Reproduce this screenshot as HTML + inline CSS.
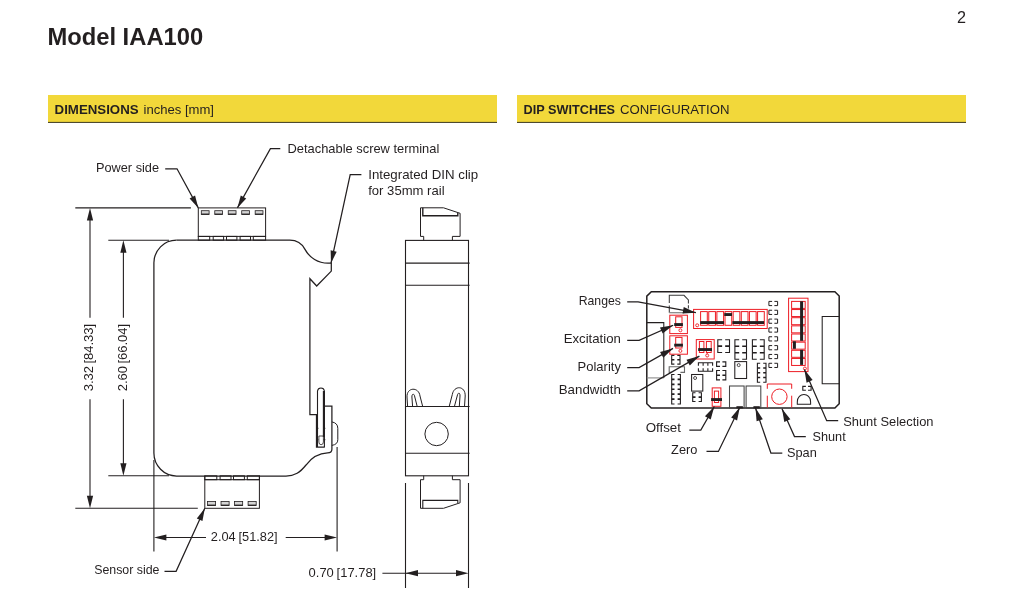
<!DOCTYPE html>
<html lang="en">
<head>
<meta charset="utf-8">
<title>Model IAA100</title>
<style>
html,body{margin:0;padding:0;background:#fff;}
body{width:1011px;height:606px;overflow:hidden;}
svg{display:block;will-change:transform;font-family:"Liberation Sans",sans-serif;}
svg text{fill:#231f20;}
</style>
</head>
<body>
<svg width="1011" height="606" viewBox="0 0 1011 606">
<text x="47.4" y="44.7" font-size="23" font-weight="bold" textLength="155.8" lengthAdjust="spacingAndGlyphs">Model IAA100</text>
<text x="961.5" y="22.9" font-size="16.2" text-anchor="middle">2</text>
<rect x="48" y="95" width="449" height="27" fill="#f2d83a"/>
<rect x="48" y="121.9" width="449" height="1" fill="#3b3718"/>
<rect x="517" y="95" width="449" height="27" fill="#f2d83a"/>
<rect x="517" y="121.9" width="449" height="1" fill="#3b3718"/>
<text x="54.6" y="113.7" font-size="13.5" font-weight="bold" textLength="84" lengthAdjust="spacingAndGlyphs">DIMENSIONS</text>
<text x="143.5" y="113.7" font-size="13.5" textLength="70.5" lengthAdjust="spacingAndGlyphs">inches [mm]</text>
<text x="523.6" y="113.7" font-size="13.5" font-weight="bold" textLength="91.5" lengthAdjust="spacingAndGlyphs">DIP SWITCHES</text>
<text x="620" y="113.7" font-size="13.5" textLength="109.5" lengthAdjust="spacingAndGlyphs">CONFIGURATION</text>
<path d="M176.5,240.2 L289.8,240.2 A17.2,17.2 0 0 1 305,249.4 A26,26 0 0 0 328,263.2 L331.3,263.2 L331.3,271.1 L316.7,286 L309.9,278.7 L309.9,414.5 L316.5,414.5 L316.5,447.1 L324.8,447.1" fill="none" stroke="#231f20" stroke-width="1.25"/>
<path d="M324.5,406.2 L331.9,406.2 L331.9,449.3 Q331.9,452.9 327.6,452.9 C318.5,453.3 312,457 306,465 C300,472.5 295,476 286,476 L176.6,476 A22.7,22.9 0 0 1 153.9,453.1 L153.9,262.8 A22.6,22.6 0 0 1 176.5,240.2" fill="none" stroke="#231f20" stroke-width="1.25"/>
<path d="M331.9,421.9 Q337.8,423 337.8,428.3 L337.8,439.7 Q337.8,444.5 331.9,445.4" fill="none" stroke="#231f20" stroke-width="1.0"/>
<path d="M317.5,447 L317.5,391 A3.5,3.6 0 0 1 324.4,391 L324.4,447" fill="none" stroke="#231f20" stroke-width="1.1"/>
<line x1="323.9" y1="391" x2="323.9" y2="437" stroke="#231f20" stroke-width="2.1"/>
<path d="M318.9,436 L323.4,436 M318.9,436 L318.9,442 Q318.9,444.7 321.1,444.7 Q323.4,444.7 323.4,442 L323.4,436" fill="none" stroke="#231f20" stroke-width="0.8"/>
<line x1="316.5" y1="428.3" x2="318.5" y2="428.3" stroke="#231f20" stroke-width="0.8"/>
<line x1="323.4" y1="428.3" x2="325.4" y2="428.3" stroke="#231f20" stroke-width="0.8"/>
<line x1="316.5" y1="439.7" x2="318.5" y2="439.7" stroke="#231f20" stroke-width="0.8"/>
<line x1="323.4" y1="439.7" x2="325.4" y2="439.7" stroke="#231f20" stroke-width="0.8"/>
<rect x="198.3" y="207.9" width="67.3" height="28.5" fill="none" stroke="#231f20" stroke-width="1.0"/>
<rect x="198.3" y="236.4" width="11.4" height="3.8" fill="none" stroke="#231f20" stroke-width="1.0"/>
<rect x="213.2" y="236.4" width="10.4" height="3.8" fill="none" stroke="#231f20" stroke-width="1.0"/>
<rect x="226.5" y="236.4" width="10.4" height="3.8" fill="none" stroke="#231f20" stroke-width="1.0"/>
<rect x="240.1" y="236.4" width="10.4" height="3.8" fill="none" stroke="#231f20" stroke-width="1.0"/>
<rect x="253.3" y="236.4" width="12.3" height="3.8" fill="none" stroke="#231f20" stroke-width="1.0"/>
<rect x="201.3" y="210.7" width="7.8" height="3.7" fill="#d4d4d4" stroke="#231f20" stroke-width="0.8"/>
<line x1="201.3" y1="214.1" x2="209.1" y2="214.1" stroke="#231f20" stroke-width="1.1"/>
<rect x="214.77" y="210.7" width="7.8" height="3.7" fill="#d4d4d4" stroke="#231f20" stroke-width="0.8"/>
<line x1="214.77" y1="214.1" x2="222.57" y2="214.1" stroke="#231f20" stroke-width="1.1"/>
<rect x="228.24" y="210.7" width="7.8" height="3.7" fill="#d4d4d4" stroke="#231f20" stroke-width="0.8"/>
<line x1="228.24" y1="214.1" x2="236.04" y2="214.1" stroke="#231f20" stroke-width="1.1"/>
<rect x="241.71" y="210.7" width="7.8" height="3.7" fill="#d4d4d4" stroke="#231f20" stroke-width="0.8"/>
<line x1="241.71" y1="214.1" x2="249.51" y2="214.1" stroke="#231f20" stroke-width="1.1"/>
<rect x="255.18" y="210.7" width="7.8" height="3.7" fill="#d4d4d4" stroke="#231f20" stroke-width="0.8"/>
<line x1="255.18" y1="214.1" x2="262.98" y2="214.1" stroke="#231f20" stroke-width="1.1"/>
<rect x="204.8" y="479.7" width="54.6" height="28.6" fill="none" stroke="#231f20" stroke-width="1.0"/>
<line x1="204.8" y1="475.8" x2="204.8" y2="479.7" stroke="#231f20" stroke-width="1.0"/>
<line x1="259.4" y1="475.8" x2="259.4" y2="479.7" stroke="#231f20" stroke-width="1.0"/>
<rect x="204.8" y="475.8" width="12" height="3.9" fill="none" stroke="#231f20" stroke-width="1.0"/>
<rect x="220.1" y="475.8" width="10.9" height="3.9" fill="none" stroke="#231f20" stroke-width="1.0"/>
<rect x="233.5" y="475.8" width="10.9" height="3.9" fill="none" stroke="#231f20" stroke-width="1.0"/>
<rect x="247.3" y="475.8" width="12.1" height="3.9" fill="none" stroke="#231f20" stroke-width="1.0"/>
<rect x="207.5" y="501.5" width="8.1" height="3.9" fill="#d4d4d4" stroke="#231f20" stroke-width="0.8"/>
<line x1="207.5" y1="505.2" x2="215.6" y2="505.2" stroke="#231f20" stroke-width="1.2"/>
<rect x="221.03" y="501.5" width="8.1" height="3.9" fill="#d4d4d4" stroke="#231f20" stroke-width="0.8"/>
<line x1="221.03" y1="505.2" x2="229.13" y2="505.2" stroke="#231f20" stroke-width="1.2"/>
<rect x="234.56" y="501.5" width="8.1" height="3.9" fill="#d4d4d4" stroke="#231f20" stroke-width="0.8"/>
<line x1="234.56" y1="505.2" x2="242.66" y2="505.2" stroke="#231f20" stroke-width="1.2"/>
<rect x="248.09" y="501.5" width="8.1" height="3.9" fill="#d4d4d4" stroke="#231f20" stroke-width="0.8"/>
<line x1="248.09" y1="505.2" x2="256.19" y2="505.2" stroke="#231f20" stroke-width="1.2"/>
<line x1="75.3" y1="207.9" x2="190.9" y2="207.9" stroke="#231f20" stroke-width="1.1"/>
<line x1="108.3" y1="240.2" x2="169" y2="240.2" stroke="#231f20" stroke-width="1.1"/>
<line x1="108.3" y1="475.8" x2="169" y2="475.8" stroke="#231f20" stroke-width="1.1"/>
<line x1="75.3" y1="508.3" x2="197.8" y2="508.3" stroke="#231f20" stroke-width="1.1"/>
<line x1="153.9" y1="460" x2="153.9" y2="551.6" stroke="#231f20" stroke-width="1.1"/>
<line x1="337.1" y1="447.1" x2="337.1" y2="551.6" stroke="#231f20" stroke-width="1.1"/>
<line x1="90" y1="215" x2="90" y2="317.8" stroke="#231f20" stroke-width="1.1"/>
<line x1="90" y1="399.2" x2="90" y2="500" stroke="#231f20" stroke-width="1.1"/>
<path d="M90,207.9 L93.1,220.4 L86.9,220.4 Z" fill="#231f20"/>
<path d="M90,508.3 L86.9,495.8 L93.1,495.8 Z" fill="#231f20"/>
<line x1="123.4" y1="247" x2="123.4" y2="317.8" stroke="#231f20" stroke-width="1.1"/>
<line x1="123.4" y1="399.2" x2="123.4" y2="470" stroke="#231f20" stroke-width="1.1"/>
<path d="M123.4,240.2 L126.5,252.7 L120.3,252.7 Z" fill="#231f20"/>
<path d="M123.4,475.8 L120.3,463.3 L126.5,463.3 Z" fill="#231f20"/>
<text transform="translate(93.4,357.6) rotate(-90)" font-size="13.1" word-spacing="-1.2" text-anchor="middle" textLength="67.3" lengthAdjust="spacingAndGlyphs">3.32 [84.33]</text>
<text transform="translate(127.2,357.6) rotate(-90)" font-size="13.1" word-spacing="-1.2" text-anchor="middle" textLength="67.3" lengthAdjust="spacingAndGlyphs">2.60 [66.04]</text>
<line x1="160" y1="537.5" x2="206" y2="537.5" stroke="#231f20" stroke-width="1.1"/>
<line x1="285.7" y1="537.5" x2="330" y2="537.5" stroke="#231f20" stroke-width="1.1"/>
<path d="M153.9,537.5 L166.4,534.4 L166.4,540.6 Z" fill="#231f20"/>
<path d="M337.1,537.5 L324.6,540.6 L324.6,534.4 Z" fill="#231f20"/>
<text x="210.8" y="540.9" font-size="13.5" textLength="66.8" lengthAdjust="spacingAndGlyphs" word-spacing="-0.8">2.04 [51.82]</text>
<text x="96" y="172.2" font-size="13" textLength="63" lengthAdjust="spacingAndGlyphs">Power side</text>
<path d="M165.2,168.8 L177,168.8 L198.3,207.9" fill="none" stroke="#231f20" stroke-width="1.25"/>
<path d="M198.3,207.9 L189.6,198.41 L195.04,195.44 Z" fill="#231f20"/>
<text x="287.5" y="152.6" font-size="13" textLength="151.8" lengthAdjust="spacingAndGlyphs">Detachable screw terminal</text>
<path d="M280.3,148.6 L270.4,148.6 L237.4,207.9" fill="none" stroke="#231f20" stroke-width="1.25"/>
<path d="M237.4,207.9 L240.77,195.47 L246.19,198.48 Z" fill="#231f20"/>
<text x="368.2" y="179" font-size="13" textLength="110" lengthAdjust="spacingAndGlyphs">Integrated DIN clip</text>
<text x="368.2" y="194.8" font-size="13" textLength="76.4" lengthAdjust="spacingAndGlyphs">for 35mm rail</text>
<path d="M361.4,174.6 L350.2,174.6 L331,263.2" fill="none" stroke="#231f20" stroke-width="1.25"/>
<path d="M331,263.2 L330.62,250.33 L336.68,251.64 Z" fill="#231f20"/>
<text x="94.2" y="574.3" font-size="13" textLength="65.3" lengthAdjust="spacingAndGlyphs">Sensor side</text>
<path d="M164.5,571.3 L176.1,571.3 L204.8,508.3" fill="none" stroke="#231f20" stroke-width="1.25"/>
<path d="M204.8,508.3 L202.44,520.96 L196.8,518.39 Z" fill="#231f20"/>
<rect x="405.5" y="240.4" width="63" height="235.4" fill="none" stroke="#231f20" stroke-width="1.1"/>
<line x1="405" y1="263.1" x2="469.6" y2="263.1" stroke="#231f20" stroke-width="1.1"/>
<line x1="405" y1="285.3" x2="469.6" y2="285.3" stroke="#231f20" stroke-width="1.1"/>
<line x1="405" y1="406.5" x2="469.6" y2="406.5" stroke="#231f20" stroke-width="1.1"/>
<line x1="405" y1="453.3" x2="469.6" y2="453.3" stroke="#231f20" stroke-width="1.1"/>
<path d="M423.7,240.3 L423.7,236.4 L420.5,236.4 L420.5,207.8 L443.5,207.8 L460.1,213.3 L460.1,236.4 L452.4,236.4 L452.4,240.3" fill="none" stroke="#231f20" stroke-width="1.0"/>
<path d="M422.8,207.8 L422.8,215.8 L457.8,215.8 L457.8,213" fill="none" stroke="#231f20" stroke-width="1.4"/>
<path d="M423.7,475.7 L423.7,479.7 L420.5,479.7 L420.5,508.3 L443.5,508.3 L460.1,502.8 L460.1,479.7 L452.4,479.7 L452.4,475.7" fill="none" stroke="#231f20" stroke-width="1.0"/>
<path d="M422.8,508.3 L422.8,500.4 L457.8,500.4 L457.8,503" fill="none" stroke="#231f20" stroke-width="1.1"/>
<path d="M407.6,406.5 L407,397 C406.6,387 418.8,386.6 420,396 L422.7,406.5" fill="none" stroke="#231f20" stroke-width="1.0"/>
<path d="M412.6,406.5 L411.9,397 C411.8,393.3 414.4,393.3 414.8,397 L417.2,406.5" fill="none" stroke="#231f20" stroke-width="1.0"/>
<path d="M449.2,406.5 L452.3,394.5 C454,385 465.5,385.5 465.2,396 L464.5,406.5" fill="none" stroke="#231f20" stroke-width="1.0"/>
<path d="M454.4,406.5 L457.2,396 C457.8,392.2 460.2,392.2 460,396 L459.3,406.5" fill="none" stroke="#231f20" stroke-width="1.0"/>
<circle cx="436.6" cy="434" r="11.7" fill="none" stroke="#231f20" stroke-width="1.0"/>
<line x1="405.5" y1="483" x2="405.5" y2="588" stroke="#231f20" stroke-width="1.1"/>
<line x1="468.5" y1="483" x2="468.5" y2="588" stroke="#231f20" stroke-width="1.1"/>
<line x1="382.4" y1="573.2" x2="462" y2="573.2" stroke="#231f20" stroke-width="1.1"/>
<path d="M405.5,573.2 L418,570.1 L418,576.3 Z" fill="#231f20"/>
<path d="M468.5,573.2 L456,576.3 L456,570.1 Z" fill="#231f20"/>
<text x="308.6" y="576.9" font-size="13.5" textLength="67.6" lengthAdjust="spacingAndGlyphs" word-spacing="-0.8">0.70 [17.78]</text>
<path d="M651.3,291.7 L834.9,291.7 L839.2,296.1 L839.2,403.7 L834.9,408.1 L651.3,408.1 L646.8,403.7 L646.8,296.1 Z" fill="none" stroke="#231f20" stroke-width="1.5"/>
<path d="M646.8,322.6 L663.8,322.6 L663.8,377.9" fill="none" stroke="#231f20" stroke-width="1.05"/>
<line x1="646.8" y1="377.9" x2="663.8" y2="377.9" stroke="#8a8a8a" stroke-width="1.1"/>
<path d="M839.2,316.5 L822.2,316.5 L822.2,383.8 L839.2,383.8" fill="none" stroke="#231f20" stroke-width="1.05"/>
<path d="M669.3,312.7 L669.3,305.4 M669.3,302.9 L669.3,295.3 L684,295.3 L688.4,299.9 L688.4,303.4 M688.4,305.2 L688.4,308.5" fill="none" stroke="#3a3a3a" stroke-width="1.05"/>
<line x1="669.3" y1="312.7" x2="684" y2="312.7" stroke="#8a8a8a" stroke-width="1.3"/>
<path d="M772.12,301.4 L768.9,301.4 L768.9,305.6 L772.12,305.6 M774.38,301.4 L777.6,301.4 L777.6,305.6 L774.38,305.6" fill="none" stroke="#231f20" stroke-width="1.0"/>
<path d="M772.12,310.24 L768.9,310.24 L768.9,314.44 L772.12,314.44 M774.38,310.24 L777.6,310.24 L777.6,314.44 L774.38,314.44" fill="none" stroke="#231f20" stroke-width="1.0"/>
<path d="M772.12,319.08 L768.9,319.08 L768.9,323.28 L772.12,323.28 M774.38,319.08 L777.6,319.08 L777.6,323.28 L774.38,323.28" fill="none" stroke="#231f20" stroke-width="1.0"/>
<path d="M772.12,327.92 L768.9,327.92 L768.9,332.12 L772.12,332.12 M774.38,327.92 L777.6,327.92 L777.6,332.12 L774.38,332.12" fill="none" stroke="#231f20" stroke-width="1.0"/>
<path d="M772.12,336.76 L768.9,336.76 L768.9,340.96 L772.12,340.96 M774.38,336.76 L777.6,336.76 L777.6,340.96 L774.38,340.96" fill="none" stroke="#231f20" stroke-width="1.0"/>
<path d="M772.12,345.6 L768.9,345.6 L768.9,349.8 L772.12,349.8 M774.38,345.6 L777.6,345.6 L777.6,349.8 L774.38,349.8" fill="none" stroke="#231f20" stroke-width="1.0"/>
<path d="M772.12,354.44 L768.9,354.44 L768.9,358.64 L772.12,358.64 M774.38,354.44 L777.6,354.44 L777.6,358.64 L774.38,358.64" fill="none" stroke="#231f20" stroke-width="1.0"/>
<path d="M772.12,363.28 L768.9,363.28 L768.9,367.48 L772.12,367.48 M774.38,363.28 L777.6,363.28 L777.6,367.48 L774.38,367.48" fill="none" stroke="#231f20" stroke-width="1.0"/>
<path d="M722.13,339.7 L717.8,339.7 L717.8,352.5 L722.13,352.5 M725.17,339.7 L729.5,339.7 L729.5,352.5 L725.17,352.5" fill="none" stroke="#231f20" stroke-width="1.1"/>
<path d="M717.8,346.1 L722.13,346.1 M725.17,346.1 L729.5,346.1" fill="none" stroke="#231f20" stroke-width="1.595"/>
<path d="M739.19,339.7 L734.9,339.7 L734.9,359.2 L739.19,359.2 M742.21,339.7 L746.5,339.7 L746.5,359.2 L742.21,359.2" fill="none" stroke="#231f20" stroke-width="1.1"/>
<path d="M734.9,346.2 L739.19,346.2 M742.21,346.2 L746.5,346.2 M734.9,352.7 L739.19,352.7 M742.21,352.7 L746.5,352.7" fill="none" stroke="#231f20" stroke-width="1.595"/>
<path d="M756.77,339.7 L752.4,339.7 L752.4,359.2 L756.77,359.2 M759.83,339.7 L764.2,339.7 L764.2,359.2 L759.83,359.2" fill="none" stroke="#231f20" stroke-width="1.1"/>
<path d="M752.4,346.2 L756.77,346.2 M759.83,346.2 L764.2,346.2 M752.4,352.7 L756.77,352.7 M759.83,352.7 L764.2,352.7" fill="none" stroke="#231f20" stroke-width="1.595"/>
<path d="M674.4,355.4 L671.7,355.4 L671.7,364.1 L674.4,364.1 M677.3,355.4 L680,355.4 L680,364.1 L677.3,364.1" fill="none" stroke="#231f20" stroke-width="1.1"/>
<path d="M671.7,359.75 L674.4,359.75 M677.3,359.75 L680,359.75" fill="none" stroke="#231f20" stroke-width="1.595"/>
<path d="M671.7,372.4 L669.2,372.4 L669.2,366.8 L684.5,366.8 L684.5,372.4 L680.4,372.4" fill="none" stroke="#6a6a6a" stroke-width="1.1"/>
<path d="M674.5,374.5 L671.7,374.5 L671.7,404 L674.5,404 M677.6,374.5 L680.4,374.5 L680.4,404 L677.6,404" fill="none" stroke="#231f20" stroke-width="1.1"/>
<path d="M671.7,379.42 L674.5,379.42 M677.6,379.42 L680.4,379.42 M671.7,384.33 L674.5,384.33 M677.6,384.33 L680.4,384.33 M671.7,389.25 L674.5,389.25 M677.6,389.25 L680.4,389.25 M671.7,394.17 L674.5,394.17 M677.6,394.17 L680.4,394.17 M671.7,399.08 L674.5,399.08 M677.6,399.08 L680.4,399.08" fill="none" stroke="#231f20" stroke-width="1.595"/>
<path d="M698.4,365.8 L698.4,362.7 L712.6,362.7 L712.6,365.8 M698.4,368.2 L698.4,371.3 L712.6,371.3 L712.6,368.2 M703.13,362.7 L703.13,365.8 M703.13,368.2 L703.13,371.3 M707.87,362.7 L707.87,365.8 M707.87,368.2 L707.87,371.3" fill="none" stroke="#231f20" stroke-width="1.1"/>
<path d="M720,361.9 L716.6,361.9 L716.6,366.4 L720,366.4 M722.4,361.9 L725.8,361.9 L725.8,366.4 L722.4,366.4" fill="none" stroke="#231f20" stroke-width="1.1"/>
<path d="M720,370.5 L716.6,370.5 L716.6,379.9 L720,379.9 M722.4,370.5 L725.8,370.5 L725.8,379.9 L722.4,379.9" fill="none" stroke="#231f20" stroke-width="1.1"/>
<path d="M716.6,375.2 L720,375.2 M722.4,375.2 L725.8,375.2" fill="none" stroke="#231f20" stroke-width="1.595"/>
<rect x="691.6" y="374.5" width="11.2" height="16.6" fill="none" stroke="#231f20" stroke-width="1.05"/>
<circle cx="695.1" cy="378" r="1.5" fill="none" stroke="#231f20" stroke-width="0.8"/>
<path d="M695.5,392.8 L692.7,392.8 L692.7,401.5 L695.5,401.5 M698.6,392.8 L701.4,392.8 L701.4,401.5 L698.6,401.5" fill="none" stroke="#231f20" stroke-width="1.1"/>
<path d="M692.7,397.15 L695.5,397.15 M698.6,397.15 L701.4,397.15" fill="none" stroke="#231f20" stroke-width="1.595"/>
<rect x="734.8" y="361.6" width="11.8" height="16.9" fill="none" stroke="#231f20" stroke-width="1.05"/>
<circle cx="738.7" cy="365.1" r="1.5" fill="none" stroke="#231f20" stroke-width="0.8"/>
<path d="M760.2,363.3 L757.4,363.3 L757.4,382.2 L760.2,382.2 M763.2,363.3 L766,363.3 L766,382.2 L763.2,382.2" fill="none" stroke="#231f20" stroke-width="1.1"/>
<path d="M757.4,368.02 L760.2,368.02 M763.2,368.02 L766,368.02 M757.4,372.75 L760.2,372.75 M763.2,372.75 L766,372.75 M757.4,377.48 L760.2,377.48 M763.2,377.48 L766,377.48" fill="none" stroke="#231f20" stroke-width="1.595"/>
<path d="M805.87,386.4 L802.8,386.4 L802.8,390.3 L805.87,390.3 M808.03,386.4 L811.1,386.4 L811.1,390.3 L808.03,390.3" fill="none" stroke="#231f20" stroke-width="1.1"/>
<rect x="729.5" y="386" width="14.6" height="22" fill="none" stroke="#444" stroke-width="1.05"/>
<rect x="746.1" y="386" width="14.7" height="22" fill="none" stroke="#444" stroke-width="1.05"/>
<rect x="736.4" y="406.2" width="6.5" height="2.2" fill="#231f20"/>
<rect x="753.4" y="406.2" width="6.4" height="2.2" fill="#231f20"/>
<path d="M797.3,404.3 L797.3,402 C797.3,392 810.6,392 810.6,402 L810.6,404.3 Z" fill="none" stroke="#231f20" stroke-width="1.05"/>
<rect x="669.8" y="315.2" width="17.6" height="18.4" fill="none" stroke="#ed1c24" stroke-width="1.0"/>
<rect x="675.7" y="316.8" width="6.3" height="10.6" fill="none" stroke="#ed1c24" stroke-width="1.0"/>
<rect x="674.2" y="323.1" width="8.7" height="2.9" fill="#231f20"/>
<circle cx="680.4" cy="330.3" r="1.5" fill="none" stroke="#ed1c24" stroke-width="0.9"/>
<rect x="669.8" y="335.8" width="17.6" height="18.4" fill="none" stroke="#ed1c24" stroke-width="1.0"/>
<rect x="675.7" y="337.4" width="6.3" height="10.6" fill="none" stroke="#ed1c24" stroke-width="1.0"/>
<rect x="674.2" y="343.7" width="8.7" height="2.9" fill="#231f20"/>
<circle cx="680.4" cy="350.9" r="1.5" fill="none" stroke="#ed1c24" stroke-width="0.9"/>
<rect x="693.6" y="309.4" width="73.6" height="19.1" fill="none" stroke="#ed1c24" stroke-width="1.0"/>
<rect x="700.6" y="311.6" width="6.7" height="13.7" fill="none" stroke="#ed1c24" stroke-width="1.0"/>
<rect x="708.74" y="311.6" width="6.7" height="13.7" fill="none" stroke="#ed1c24" stroke-width="1.0"/>
<rect x="716.88" y="311.6" width="6.7" height="13.7" fill="none" stroke="#ed1c24" stroke-width="1.0"/>
<rect x="725.02" y="311.6" width="6.7" height="13.7" fill="none" stroke="#ed1c24" stroke-width="1.0"/>
<rect x="733.16" y="311.6" width="6.7" height="13.7" fill="none" stroke="#ed1c24" stroke-width="1.0"/>
<rect x="741.3" y="311.6" width="6.7" height="13.7" fill="none" stroke="#ed1c24" stroke-width="1.0"/>
<rect x="749.44" y="311.6" width="6.7" height="13.7" fill="none" stroke="#ed1c24" stroke-width="1.0"/>
<rect x="757.58" y="311.6" width="6.7" height="13.7" fill="none" stroke="#ed1c24" stroke-width="1.0"/>
<rect x="700.2" y="321.1" width="23.8" height="2.9" fill="#231f20"/>
<rect x="732.4" y="321.1" width="31.7" height="2.9" fill="#231f20"/>
<rect x="724.3" y="313.1" width="7.7" height="2.9" fill="#231f20"/>
<circle cx="697.2" cy="325.3" r="1.5" fill="none" stroke="#ed1c24" stroke-width="0.9"/>
<rect x="696.3" y="339.6" width="17.9" height="19.4" fill="none" stroke="#ed1c24" stroke-width="1.0"/>
<rect x="699.4" y="341.5" width="4.5" height="11" fill="none" stroke="#ed1c24" stroke-width="1.0"/>
<rect x="706.4" y="341.5" width="4.8" height="11" fill="none" stroke="#ed1c24" stroke-width="1.0"/>
<rect x="698.2" y="348.1" width="13.8" height="2.9" fill="#231f20"/>
<circle cx="707.2" cy="355.5" r="1.5" fill="none" stroke="#ed1c24" stroke-width="0.9"/>
<line x1="707.2" y1="352.5" x2="707.2" y2="354" stroke="#ed1c24" stroke-width="0.9"/>
<rect x="788.6" y="298.2" width="19.4" height="73.4" fill="none" stroke="#ed1c24" stroke-width="1.0"/>
<rect x="791.6" y="301.4" width="13.6" height="7" fill="none" stroke="#ed1c24" stroke-width="1.0"/>
<rect x="791.6" y="309.55" width="13.6" height="7" fill="none" stroke="#ed1c24" stroke-width="1.0"/>
<rect x="791.6" y="317.7" width="13.6" height="7" fill="none" stroke="#ed1c24" stroke-width="1.0"/>
<rect x="791.6" y="325.85" width="13.6" height="7" fill="none" stroke="#ed1c24" stroke-width="1.0"/>
<rect x="791.6" y="334" width="13.6" height="7" fill="none" stroke="#ed1c24" stroke-width="1.0"/>
<rect x="791.6" y="342.15" width="13.6" height="7" fill="none" stroke="#ed1c24" stroke-width="1.0"/>
<rect x="791.6" y="350.3" width="13.6" height="7" fill="none" stroke="#ed1c24" stroke-width="1.0"/>
<rect x="791.6" y="358.45" width="13.6" height="7" fill="none" stroke="#ed1c24" stroke-width="1.0"/>
<rect x="800.1" y="301.3" width="3" height="39.5" fill="#231f20"/>
<rect x="800.1" y="349.8" width="3" height="15.1" fill="#231f20"/>
<rect x="792.9" y="341.3" width="3" height="7.5" fill="#231f20"/>
<circle cx="804.9" cy="368.5" r="1.5" fill="none" stroke="#ed1c24" stroke-width="0.9"/>
<rect x="712.2" y="387.9" width="8.7" height="18.4" fill="none" stroke="#ed1c24" stroke-width="1.0"/>
<rect x="714.4" y="391.1" width="4.2" height="11.4" fill="none" stroke="#ed1c24" stroke-width="1.0"/>
<rect x="711.1" y="398.1" width="10.9" height="2.9" fill="#231f20"/>
<path d="M767.3,388.8 L767.3,384 L791.7,384 L791.7,388.8 M767.3,395.7 L767.3,407.5 M791.7,395.7 L791.7,407.5" fill="none" stroke="#ed1c24" stroke-width="1.0"/>
<circle cx="779.4" cy="396.7" r="7.7" fill="none" stroke="#ed1c24" stroke-width="1.0"/>
<text x="620.9" y="304.8" font-size="13.4" text-anchor="end" textLength="42.2" lengthAdjust="spacingAndGlyphs">Ranges</text>
<path d="M627.2,301.8 L638.1,301.8 L695.9,312.7" fill="none" stroke="#231f20" stroke-width="1.25"/>
<path d="M695.9,312.7 L682.51,313.53 L683.74,307.05 Z" fill="#231f20"/>
<text x="620.9" y="343" font-size="13.4" text-anchor="end" textLength="57.2" lengthAdjust="spacingAndGlyphs">Excitation</text>
<path d="M627.2,340.4 L639.1,340.4 L673.2,325.3" fill="none" stroke="#231f20" stroke-width="1.25"/>
<path d="M673.2,325.3 L662.65,333.58 L659.98,327.55 Z" fill="#231f20"/>
<text x="620.9" y="370.7" font-size="13.4" text-anchor="end" textLength="43.3" lengthAdjust="spacingAndGlyphs">Polarity</text>
<path d="M627.2,367.6 L639.1,367.6 L673,348.4" fill="none" stroke="#231f20" stroke-width="1.25"/>
<path d="M673,348.4 L663.31,357.68 L660.06,351.94 Z" fill="#231f20"/>
<text x="620.9" y="393.9" font-size="13.4" text-anchor="end" textLength="62.2" lengthAdjust="spacingAndGlyphs">Bandwidth</text>
<path d="M627.2,390.9 L639.1,390.9 L699.4,356.1" fill="none" stroke="#231f20" stroke-width="1.25"/>
<path d="M699.4,356.1 L689.79,365.46 L686.49,359.74 Z" fill="#231f20"/>
<text x="645.7" y="432" font-size="13.4" textLength="35.3" lengthAdjust="spacingAndGlyphs">Offset</text>
<path d="M689.3,430 L700.8,430 L714.3,406.5" fill="none" stroke="#231f20" stroke-width="1.25"/>
<path d="M714.3,406.5 L710.69,419.42 L704.96,416.13 Z" fill="#231f20"/>
<text x="671.1" y="454" font-size="13.4" textLength="26.3" lengthAdjust="spacingAndGlyphs">Zero</text>
<path d="M706.5,451.4 L718.4,451.4 L739.8,407.3" fill="none" stroke="#231f20" stroke-width="1.25"/>
<path d="M739.8,407.3 L737.09,420.44 L731.16,417.55 Z" fill="#231f20"/>
<text x="787" y="457" font-size="13.4" textLength="29.8" lengthAdjust="spacingAndGlyphs">Span</text>
<path d="M782.3,453 L770.9,453 L755.5,408" fill="none" stroke="#231f20" stroke-width="1.25"/>
<path d="M755.5,408 L762.83,419.23 L756.59,421.37 Z" fill="#231f20"/>
<text x="812.5" y="441.1" font-size="13.4" textLength="33.2" lengthAdjust="spacingAndGlyphs">Shunt</text>
<path d="M805.8,436.6 L794.5,436.6 L782,408.7" fill="none" stroke="#231f20" stroke-width="1.25"/>
<path d="M782,408.7 L790.33,419.21 L784.3,421.91 Z" fill="#231f20"/>
<text x="843.2" y="426.1" font-size="13.4" textLength="90.3" lengthAdjust="spacingAndGlyphs">Shunt Selection</text>
<path d="M838.2,420.7 L826.7,420.7 L804.4,369.5" fill="none" stroke="#231f20" stroke-width="1.25"/>
<path d="M804.4,369.5 L812.62,380.1 L806.57,382.74 Z" fill="#231f20"/>
</svg>
</body>
</html>
